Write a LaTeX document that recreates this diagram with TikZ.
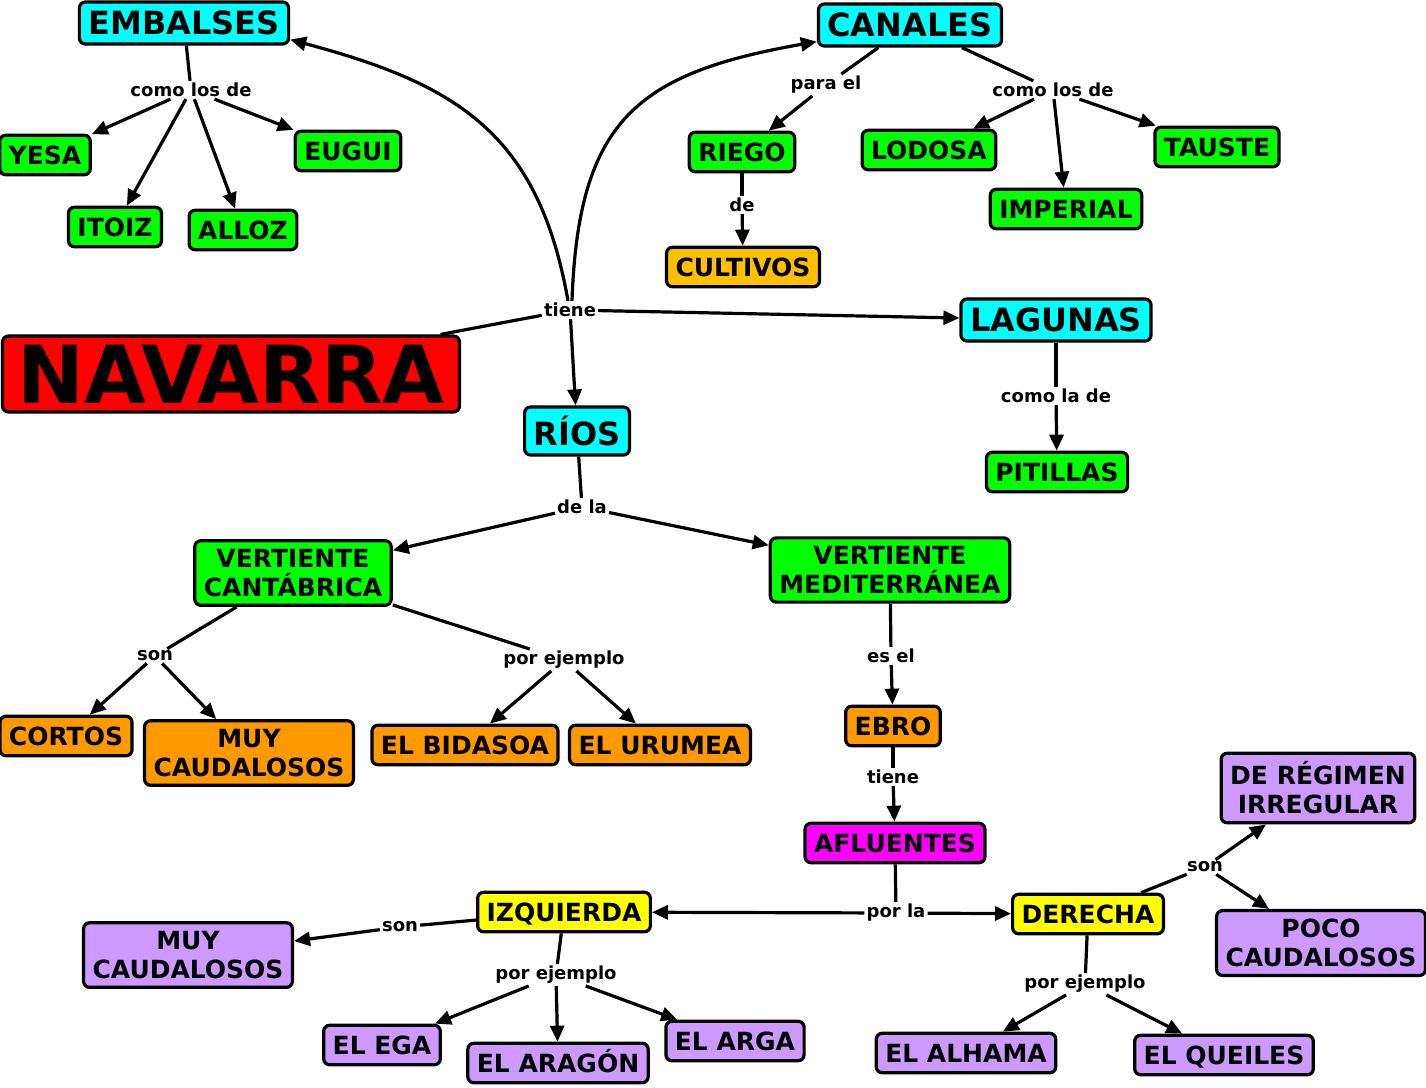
\documentclass[tikz,border=0pt]{standalone}
\usepackage{fontspec}
\setmainfont{DejaVu Sans}
\usetikzlibrary{arrows.meta, positioning, calc}
\definecolor{NodeCyan}{RGB}{0,255,255}
\definecolor{NodeGreen}{RGB}{0,255,0}
\definecolor{NodeOrange}{RGB}{255,153,0}
\definecolor{NodeGold}{RGB}{255,192,0}
\definecolor{NodeYellow}{RGB}{255,255,0}
\definecolor{NodeMagenta}{RGB}{255,0,255}
\definecolor{NodeLilac}{RGB}{204,153,255}
\definecolor{NodeRed}{RGB}{255,0,0}

\begin{document}
\begin{tikzpicture}[x=1pt,y=1pt,
    box/.style={draw=black, line width=3.2pt, rounded corners=6pt,
      inner xsep=9pt, inner ysep=10.5pt, text height=18.5pt, text depth=0pt,
      font=\fontsize{25}{29}\selectfont\bfseries},
    twobox/.style={draw=black, line width=3.2pt, rounded corners=6pt,
      inner xsep=9pt, inner ysep=8.5pt, align=center,
      font=\fontsize{25}{29}\selectfont\bfseries},
    bigbox/.style={box, fill=NodeCyan, inner ysep=9.5pt, text height=23pt,
      font=\fontsize{32}{36}\selectfont\bfseries},
    lbl/.style={fill=white, inner sep=2pt, font=\fontsize{18}{20}\selectfont\bfseries},
    link/.style={line width=3.2pt},
    arr/.style={link, -{Triangle[length=16pt,width=14pt]}}
  ]
  \useasboundingbox (0,0) rectangle (1426,-1087);

  % main concepts
  \node[box, fill=NodeRed, inner xsep=15pt, inner ysep=9pt, text height=58pt,
    font=\fontsize{80}{90}\selectfont\bfseries] (navarra) at (231,-374) {NAVARRA};
  \node[bigbox] (embalses) at (184,-23) {EMBALSES};
  \node[bigbox] (canales) at (910,-25) {CANALES};
  \node[bigbox] (lagunas) at (1056,-320) {LAGUNAS};
  \node[bigbox, text height=29pt] (rios) at (577,-431) {RÍOS};

  % embalses, canales, lagunas
  \node[box, fill=NodeGreen] (yesa) at (45,-155) {YESA};
  \node[box, fill=NodeGreen] (eugui) at (348,-151) {EUGUI};
  \node[box, fill=NodeGreen] (itoiz) at (115,-227) {ITOIZ};
  \node[box, fill=NodeGreen] (alloz) at (243,-230) {ALLOZ};
  \node[box, fill=NodeGreen] (riego) at (742,-152) {RIEGO};
  \node[box, fill=NodeGold] (cultivos) at (743,-267) {CULTIVOS};
  \node[box, fill=NodeGreen] (lodosa) at (929,-150) {LODOSA};
  \node[box, fill=NodeGreen] (imperial) at (1066,-209) {IMPERIAL};
  \node[box, fill=NodeGreen] (tauste) at (1217,-147) {TAUSTE};
  \node[box, fill=NodeGreen] (pitillas) at (1057,-472) {PITILLAS};

  % rios
  \node[twobox, fill=NodeGreen] (cantabrica) at (293,-573) {VERTIENTE\\CANTÁBRICA};
  \node[twobox, fill=NodeGreen] (mediterranea) at (890,-570) {VERTIENTE\\MEDITERRÁNEA};
  \node[box, fill=NodeOrange] (cortos) at (66,-736) {CORTOS};
  \node[twobox, fill=NodeOrange] (caudal1) at (249,-753) {MUY\\CAUDALOSOS};
  \node[box, fill=NodeOrange] (bidasoa) at (465,-745) {EL BIDASOA};
  \node[box, fill=NodeOrange] (urumea) at (660,-745) {EL URUMEA};
  \node[box, fill=NodeOrange] (ebro) at (893,-726) {EBRO};
  \node[box, fill=NodeMagenta] (afluentes) at (895,-843) {AFLUENTES};
  \node[box, fill=NodeYellow] (izquierda) at (564,-912) {IZQUIERDA};
  \node[box, fill=NodeYellow] (derecha) at (1088,-914) {DERECHA};
  \node[twobox, fill=NodeLilac] (caudal2) at (188,-955) {MUY\\CAUDALOSOS};
  \node[box, fill=NodeLilac] (ega) at (382,-1045) {EL EGA};
  \node[box, fill=NodeLilac] (aragon) at (558,-1063) {EL ARAGÓN};
  \node[box, fill=NodeLilac] (arga) at (735,-1041) {EL ARGA};
  \node[twobox, fill=NodeLilac] (regimen) at (1318,-788) {DE RÉGIMEN\\IRREGULAR};
  \node[twobox, fill=NodeLilac] (poco) at (1321,-943) {POCO\\CAUDALOSOS};
  \node[box, fill=NodeLilac] (alhama) at (966,-1053) {EL ALHAMA};
  \node[box, fill=NodeLilac] (queiles) at (1224,-1055) {EL QUEILES};

  % linking phrases
  \node[lbl] (nav-tiene) at (570,-310) {tiene};
  \node[lbl] (emb-como) at (191,-90) {como los de};
  \node[lbl] (can-para) at (826,-85) {para el};
  \node[lbl] (can-como) at (1053,-90) {como los de};
  \node[lbl] (rie-de) at (742,-205) {de};
  \node[lbl] (lag-como) at (1056,-396) {como la de};
  \node[lbl] (rio-dela) at (582,-507) {de la};
  \node[lbl] (can-son) at (155,-656) {son};
  \node[lbl] (can-ej) at (564,-660) {por ejemplo};
  \node[lbl] (med-esel) at (891,-656) {es el};
  \node[lbl] (ebro-tiene) at (893,-777) {tiene};
  \node[lbl] (afl-porla) at (896,-913) {por la};
  \node[lbl] (izq-son) at (400,-927) {son};
  \node[lbl] (izq-ej) at (556,-975) {por ejemplo};
  \node[lbl] (der-son) at (1205,-867) {son};
  \node[lbl] (der-ej) at (1085,-984) {por ejemplo};

  % connectors
  \draw[link] (navarra) -- (nav-tiene);
  \draw[arr] ([xshift=-2pt]nav-tiene.north) to[out=100, in=-15, looseness=1.15]
    ([yshift=6pt]embalses.south east);
  \draw[arr] ([xshift=2pt]nav-tiene.north) to[out=88, in=190, looseness=1.3]
    ([yshift=6pt]canales.south west);
  \draw[arr] (nav-tiene) -- (lagunas);
  \draw[arr] (nav-tiene) -- (rios);

  \draw[link] (embalses) -- (emb-como);
  \foreach \t in {yesa,itoiz,alloz,eugui}{\draw[arr] (emb-como) -- (\t);}
  \draw[link] (canales) -- (can-para);
  \draw[arr] (can-para) -- (riego);
  \draw[link] (riego) -- (rie-de);
  \draw[arr] (rie-de) -- (cultivos);
  \draw[link] ([xshift=52pt]canales.south) -- (can-como);
  \foreach \t in {lodosa,imperial,tauste}{\draw[arr] (can-como) -- (\t);}
  \draw[link] (lagunas) -- (lag-como);
  \draw[arr] (lag-como) -- (pitillas);

  \draw[link] (rios) -- (rio-dela);
  \foreach \t in {cantabrica,mediterranea}{\draw[arr] (rio-dela) -- (\t);}
  \draw[link] (cantabrica) -- (can-son);
  \foreach \t in {cortos,caudal1}{\draw[arr] (can-son) -- (\t);}
  \draw[link] (cantabrica) -- (can-ej);
  \foreach \t in {bidasoa,urumea}{\draw[arr] (can-ej) -- (\t);}
  \draw[link] (mediterranea) -- (med-esel);
  \draw[arr] (med-esel) -- (ebro);
  \draw[link] (ebro) -- (ebro-tiene);
  \draw[arr] (ebro-tiene) -- (afluentes);
  \draw[link] (afluentes) -- (afl-porla);
  \foreach \t in {izquierda,derecha}{\draw[arr] (afl-porla) -- (\t);}

  \draw[link] (izquierda) -- (izq-son);
  \draw[arr] (izq-son) -- (caudal2);
  \draw[link] (izquierda) -- (izq-ej);
  \foreach \t in {ega,aragon,arga}{\draw[arr] (izq-ej) -- (\t);}
  \draw[link] (derecha) -- (der-son);
  \foreach \t in {regimen,poco}{\draw[arr] (der-son) -- (\t);}
  \draw[link] (derecha) -- (der-ej);
  \foreach \t in {alhama,queiles}{\draw[arr] (der-ej) -- (\t);}
\end{tikzpicture}
\end{document}
